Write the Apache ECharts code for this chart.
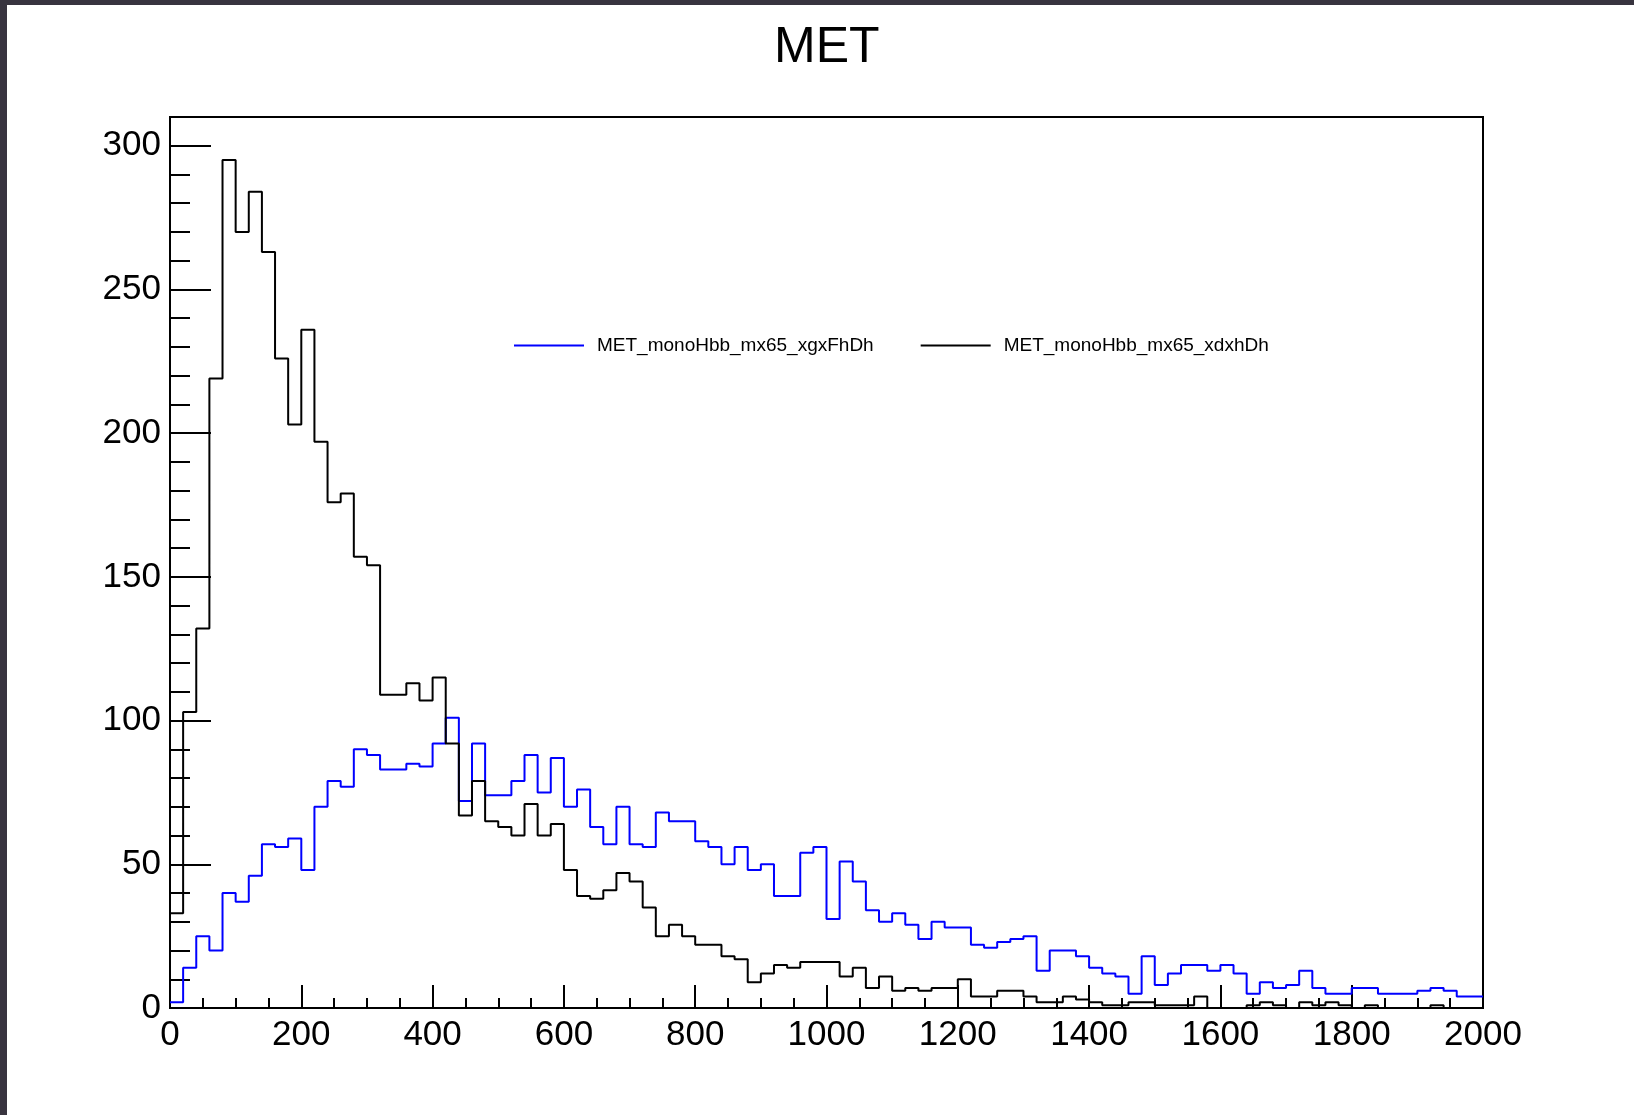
<!DOCTYPE html>
<html>
<head>
<meta charset="utf-8">
<script src="https://cdn.jsdelivr.net/npm/echarts@6/dist/echarts.min.js"></script>
<style>
  html, body { margin: 0; padding: 0; background: #ffffff; }
  #chart { position: absolute; left: 0; top: 0; width: 1634px; height: 1115px; }
  .strip { position: absolute; background: #38343f; }
</style>
</head>
<body>
<div id="chart"></div>
<div class="strip" style="left:0;top:0;width:1634px;height:5px;"></div>
<div class="strip" style="left:0;top:0;width:7px;height:1115px;"></div>
<script>
// ---- data (100 bins of width 20 from 0 to 2000) ----
const titleText = 'MET';
const seriesNames = ['MET_monoHbb_mx65_xgxFhDh', 'MET_monoHbb_mx65_xdxhDh'];
const binWidth = 20;
const xRange = [0, 2000];
const yMax = 310;

const blueCounts = [
  2, 14, 25, 20, 40, 37, 46, 57, 56, 59,
  48, 70, 79, 77, 90, 88, 83, 83, 85, 84,
  92, 101, 72, 92, 74, 74, 79, 88, 75, 87,
  70, 76, 63, 57, 70, 57, 56, 68, 65, 65,
  58, 56, 50, 56, 48, 50, 39, 39, 54, 56,
  31, 51, 44, 34, 30, 33, 29, 24, 30, 28,
  28, 22, 21, 23, 24, 25, 13, 20, 20, 18,
  14, 12, 11, 5, 18, 8, 12, 15, 15, 13,
  15, 12, 5, 9, 7, 8, 13, 7, 5, 5,
  7, 7, 5, 5, 5, 6, 7, 6, 4, 4
];

const blackCounts = [
  33, 103, 132, 219, 295, 270, 284, 263, 226, 203,
  236, 197, 176, 179, 157, 154, 109, 109, 113, 107,
  115, 92, 67, 79, 65, 63, 60, 71, 60, 64,
  48, 39, 38, 41, 47, 44, 35, 25, 29, 25,
  22, 22, 18, 17, 9, 12, 15, 14, 16, 16,
  16, 11, 14, 7, 11, 6, 7, 6, 7, 7,
  10, 4, 4, 6, 6, 4, 2, 2, 4, 3,
  2, 1, 1, 2, 2, 1, 1, 1, 4, 0,
  0, 0, 1, 2, 1, 0, 2, 1, 2, 1,
  0, 1, 0, 0, 0, 0, 1, 0, 0, 0
];

// build step points: [bin low edge, count] + closing point at upper edge
function toSteps(counts) {
  const pts = counts.map((v, i) => [xRange[0] + i * binWidth, v]);
  pts.push([xRange[0] + counts.length * binWidth, counts[counts.length - 1]]);
  return pts;
}

const FONT = '"Liberation Sans", Arial, Helvetica, sans-serif';
const chart = echarts.init(document.getElementById('chart'), null, { renderer: 'canvas' });

const option = {
  backgroundColor: '#ffffff',
  animation: false,
  title: {
    text: titleText,
    left: 769,
    top: 18,
    textStyle: { fontFamily: FONT, fontSize: 50, fontWeight: 'normal', color: '#000' }
  },
  legend: {
    left: 509,
    top: 331,
    icon: 'rect',
    itemWidth: 70,
    itemHeight: 2,
    itemGap: 47,
    data: seriesNames,
    textStyle: { fontFamily: FONT, fontSize: 19, color: '#000', padding: [0, 0, 0, 8] }
  },
  grid: {
    left: 170, right: 151, top: 117, bottom: 107,
    show: true, borderColor: '#000', borderWidth: 2, backgroundColor: 'transparent'
  },
  xAxis: {
    type: 'value',
    min: xRange[0], max: xRange[1], interval: 200,
    axisLine: { show: false },
    axisTick: { show: true, inside: true, length: 23, lineStyle: { color: '#000', width: 2 } },
    minorTick: { show: true, splitNumber: 4, length: 10, lineStyle: { color: '#000', width: 2 } },
    splitLine: { show: false },
    minorSplitLine: { show: false },
    axisLabel: { fontFamily: FONT, fontSize: 35, color: '#000', margin: 10, formatter: v => String(v) }
  },
  yAxis: [
    {
      type: 'value',
      min: 0, max: yMax, interval: 50,
      axisLine: { show: false },
      axisTick: { show: true, inside: true, length: 41, lineStyle: { color: '#000', width: 2 } },
      minorTick: { show: false },
      splitLine: { show: false },
      axisLabel: {
        fontFamily: FONT, fontSize: 35, color: '#000', margin: 9,
        padding: [4, 0, 0, 0],
        formatter: v => (Math.abs(v % 50) < 1e-9 ? String(v) : '')
      }
    },
    {
      type: 'value',
      position: 'left',
      min: 0, max: yMax, interval: 10,
      axisLine: { show: false },
      axisTick: { show: true, inside: true, length: 20, lineStyle: { color: '#000', width: 2 } },
      axisLabel: { show: false },
      splitLine: { show: false }
    }
  ],
  series: [
    {
      name: seriesNames[0],
      type: 'line',
      step: 'end',
      symbol: 'none',
      yAxisIndex: 0,
      data: toSteps(blueCounts),
      lineStyle: { color: '#0000ff', width: 2 },
      itemStyle: { color: '#0000ff' }
    },
    {
      name: seriesNames[1],
      type: 'line',
      step: 'end',
      symbol: 'none',
      yAxisIndex: 0,
      data: toSteps(blackCounts),
      lineStyle: { color: '#000000', width: 2 },
      itemStyle: { color: '#000000' }
    }
  ]
};
chart.setOption(option);
</script>
</body>
</html>
